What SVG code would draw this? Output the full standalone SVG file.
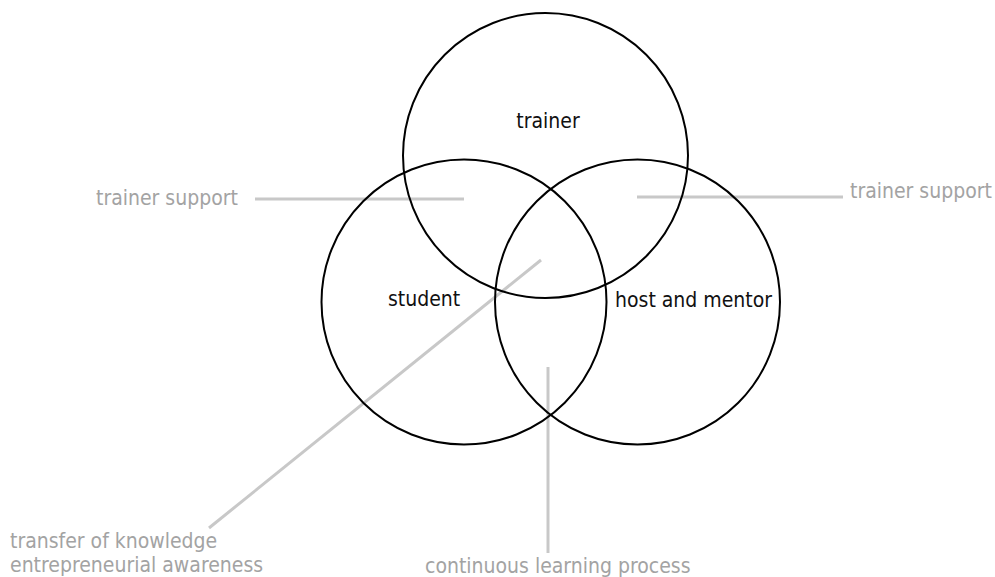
<svg xmlns="http://www.w3.org/2000/svg" width="995" height="577" viewBox="0 0 995 577">
  <style>
    .ring { fill: none; stroke: #000; stroke-width: 2; }
    .lead { stroke: #c8c8c8; stroke-width: 3; fill: none; }
    .name { font-family: "DejaVu Sans Condensed", "DejaVu Sans", sans-serif; font-stretch: condensed; font-size: 21px; fill: #111; }
    .note { font-family: "DejaVu Sans Condensed", "DejaVu Sans", sans-serif; font-stretch: condensed; font-size: 21px; fill: #a3a3a3; }
  </style>
  <rect width="995" height="577" fill="#fff"/>

  <!-- leader lines from the overlap regions to their notes -->
  <g id="connectors">
    <line class="lead" x1="255" y1="199" x2="464" y2="199"/>
    <line class="lead" x1="637" y1="197" x2="843" y2="197"/>
    <line class="lead" x1="541" y1="260" x2="209" y2="528"/>
    <line class="lead" x1="548" y1="367" x2="548" y2="553"/>
  </g>

  <g id="trainer">
    <circle class="ring" cx="545.5" cy="155.5" r="142.5"/>
    <text class="name" x="548" y="128" text-anchor="middle">trainer</text>
  </g>
  <g id="student">
    <circle class="ring" cx="464" cy="302" r="142.5"/>
    <text class="name" x="388" y="306">student</text>
  </g>
  <g id="host">
    <circle class="ring" cx="637.5" cy="302" r="142.5"/>
    <text class="name" x="615" y="307">host and mentor</text>
  </g>

  <g id="note-left-support">
    <text class="note" x="96" y="205">trainer support</text>
  </g>
  <g id="note-right-support">
    <text class="note" x="850" y="198">trainer support</text>
  </g>
  <g id="note-transfer">
    <text class="note" x="10" y="548">transfer of knowledge</text>
    <text class="note" x="10" y="572">entrepreneurial awareness</text>
  </g>
  <g id="note-learning">
    <text class="note" x="425" y="573">continuous learning process</text>
  </g>
</svg>
